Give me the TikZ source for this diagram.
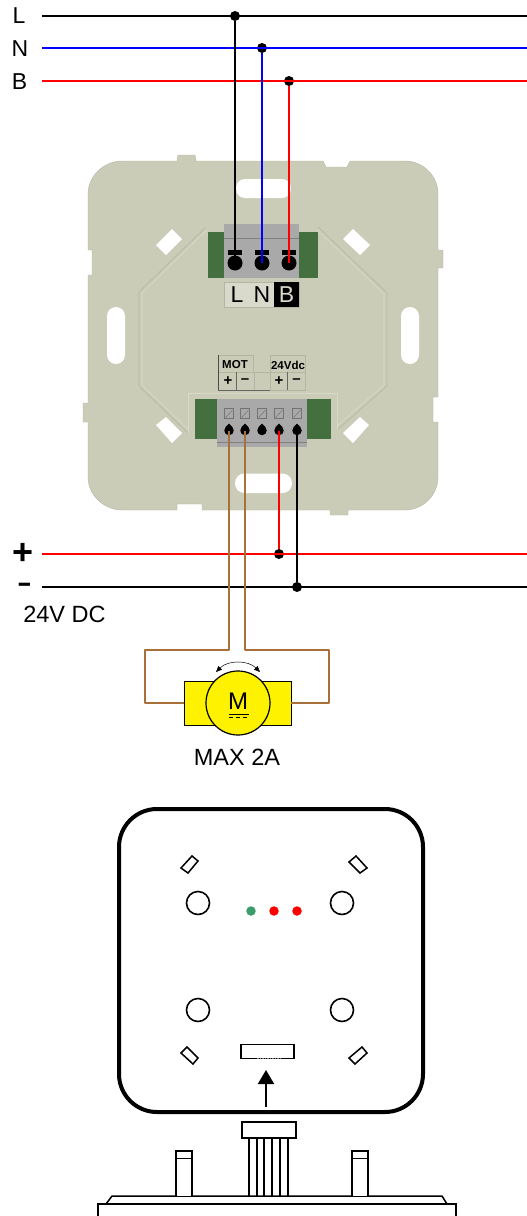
\documentclass[tikz,border=0pt]{standalone}
\usepackage{fontspec}
\setmainfont{Liberation Sans}
\usetikzlibrary{arrows.meta}
\definecolor{plate}{HTML}{CBCCB8}
\definecolor{plateedge}{HTML}{B4B5A2}
\definecolor{plateline}{HTML}{D8D9C9}
\definecolor{labelfill}{HTML}{D9DACB}
\definecolor{termgreen}{HTML}{44703F}
\definecolor{termgray}{HTML}{A9A9A9}
\definecolor{wirebrown}{HTML}{A9703C}
\definecolor{ledgreen}{HTML}{3A9B6B}
\definecolor{wireblue}{HTML}{0000FF}
\definecolor{wirered}{HTML}{FF0000}
\tikzset{
  txt/.style={inner sep=0pt,outer sep=0pt,font=\fontsize{#1}{#1}\selectfont},
  btxt/.style={inner sep=0pt,outer sep=0pt,font=\fontsize{#1}{#1}\selectfont\bfseries},
  wire/.style={line width=2pt},
  dot/.style={circle,fill=black,inner sep=0pt,minimum size=10pt,outer sep=0pt},
  bigscrew/.style={circle,fill=black,inner sep=0pt,minimum size=15pt,outer sep=0pt},
  smallscrew/.style={circle,fill=black,inner sep=0pt,minimum size=9.5pt,outer sep=0pt},
  led/.style={circle,inner sep=0pt,minimum size=9.5pt,outer sep=0pt},
  hole/.style={circle,draw=black,line width=1.6pt,fill=white,inner sep=0pt,minimum size=23pt,outer sep=0pt},
  devline/.style={draw=black,line width=1.5pt,fill=white,line join=miter},
}
\begin{document}
\begin{tikzpicture}[x=1pt,y=-1pt]
\useasboundingbox (0,0) rectangle (527,1216);
% ---- mounting plate
\fill[plate,draw=plateedge,line width=0.4pt] (122,161) -- (177,161) -- (178,155) -- (195,155) -- (196,161) -- (323,161) -- (326,167) -- (347,167) -- (350,161) -- (405,161)
 .. controls (423,161) and (438,176) .. (438,194) -- (438,250) -- (443,250) -- (443,268) -- (438,268) -- (438,397) -- (433,397) -- (433,422) -- (438,422) -- (438,477)
 .. controls (438,495) and (423,510) .. (405,510) -- (348,510) -- (348,515) -- (330,515) -- (330,510) -- (202,510) -- (202,504) -- (177,504) -- (177,510) -- (122,510)
 .. controls (104,510) and (88,495) .. (88,477) -- (88,422) -- (83,422) -- (83,403) -- (88,403) -- (88,275) -- (92,275) -- (92,250) -- (88,250) -- (88,194)
 .. controls (88,176) and (104,161) .. (122,161) -- cycle;
% slots
\fill[white,rounded corners=9pt] (236,179) rectangle (291,198);
\fill[white,rounded corners=9.5pt] (235,473.5) rectangle (292,493);
\fill[white,rounded corners=9pt] (107,307) rectangle (125,364);
\fill[white,rounded corners=9pt] (401,307) rectangle (419,364);
\fill[white] (156,245) -- (172,229) -- (182,239) -- (166,255) -- cycle;
\fill[white] (343,239) -- (353,229) -- (370,245) -- (360,255) -- cycle;
\fill[white] (156,425) -- (166,417) -- (182,433) -- (172,443) -- cycle;
\fill[white] (343,433) -- (360,417) -- (369,425) -- (353,443) -- cycle;
% octagon
\draw[plateedge,line width=0.6pt] (206,227) -- (139,292) -- (139,386) -- (188,433);
\draw[plateedge,line width=0.6pt] (318,227) -- (387,293) -- (387,386) -- (337,430);
\draw[plateline,line width=0.6pt] (207,230) -- (142,293) -- (142,385) -- (188,429);
\draw[plateline,line width=0.6pt] (317,230) -- (384,294) -- (384,385) -- (337,426);
\draw[plateline,line width=0.6pt] (188,433) -- (188,393) -- (337,393) -- (337,430);
% ---- top terminal
\fill[termgreen] (208,232) rectangle (224,278);
\fill[termgreen] (299,232) rectangle (318,278);
\fill[termgray] (224,224) rectangle (299,278);
\draw[gray,line width=0.5pt] (224,238) -- (299,238);
\fill[black] (228,250) rectangle (242,254.5);
\fill[black] (255,250) rectangle (269,254.5);
\fill[black] (282,250) rectangle (296,254.5);
\node[bigscrew] (sL) at (235,263) {};
\node[bigscrew] (sN) at (262,263) {};
\node[bigscrew] (sB) at (289,263) {};
% top label
\draw[plateedge,fill=labelfill,line width=0.6pt] (224,282) rectangle (299,307);
\fill[black] (274,282) rectangle (299,307);
\node[txt=23] (tL) at (237,295) {L};
\node[txt=23] (tN) at (262,295) {N};
\node[txt=23,text=labelfill] (tB) at (286.5,295) {B};
% ---- lower label
\draw[plateedge,line width=0.7pt] (218,355) -- (253,355);
\draw[plateedge,line width=0.7pt] (270,355) -- (305,355) -- (305,390) -- (218,390);
\draw[plateedge,line width=0.7pt] (218,372) -- (305,372);
\draw[plateedge,line width=0.7pt] (253,355) -- (253,372) (270,355) -- (270,390) (254,372) -- (254,390);
\draw[black!70,line width=0.7pt] (218,355) -- (218,390);
\draw[black!60,line width=0.7pt] (236,372) -- (236,390) (287,372) -- (287,390);
\draw[black!60,line width=0.7pt] (218,390) -- (270,390);
\node[btxt=11.5] (tMOT) at (235,365) {MOT};
\node[btxt=11.5] (t24) at (288,365) {24Vdc};
\node[btxt=15] (tp1) at (228,381) {+};
\node[btxt=15] (tm1) at (245,381) {–};
\node[btxt=15] (tp2) at (279,381) {+};
\node[btxt=15] (tm2) at (296.5,381) {–};
% ---- lower terminal
\fill[termgreen] (195,399) rectangle (217,439);
\fill[termgreen] (307,399) rectangle (331,439);
\fill[termgray] (217,399) rectangle (307,447);
\draw[gray,line width=0.5pt] (217,442) -- (307,442);
\foreach \n/\xx in {a/229,b/245,c/262,d/279,e/297}{
  \draw[black!55,line width=0.5pt] (\xx-4.5,408.5) rectangle (\xx+4.5,418.5);
  \draw[black!55,line width=0.5pt] (\xx-3.5,417.5) -- (\xx+3.5,410);
  \fill[black] (\xx-3.5,427) -- (\xx,423.5) -- (\xx+3.5,427) -- cycle;
  \node[smallscrew] (t\n) at (\xx,430.5) {};
}
% ---- power lines
\coordinate (Lstart) at (42,16);  \coordinate (Lend) at (527,16);
\coordinate (Nstart) at (42,48);  \coordinate (Nend) at (527,48);
\coordinate (Bstart) at (42,81);  \coordinate (Bend) at (527,81);
\coordinate (Pstart) at (42,554); \coordinate (Pend) at (527,554);
\coordinate (Mstart) at (42,587); \coordinate (Mend) at (527,587);
\node[dot] (jL) at (235,16) {};
\node[dot] (jN) at (262,48) {};
\node[dot] (jB) at (289,81) {};
\node[dot] (jP) at (279,554) {};
\node[dot] (jM) at (297,587) {};
\draw[wire,black] (Lstart) -- (Lend);
\draw[wire,wireblue] (Nstart) -- (Nend);
\draw[wire,wirered] (Bstart) -- (Bend);
\draw[wire,wirered] (Pstart) -- (Pend);
\draw[wire,black] (Mstart) -- (Mend);
\draw[wire,black] (jL) -- (sL);
\draw[wire,wireblue] (jN) -- (sN.center);
\draw[wire,wirered] (jB) -- (sB.center);
\draw[wire,wirered] (td.center) -- (jP);
\draw[wire,black] (te) -- (jM);
% ---- motor
\node[draw=black,line width=0.5pt,fill=yellow,minimum width=107pt,minimum height=44pt,inner sep=0pt,outer sep=0pt] (valve) at (237.5,703) {};
\node[circle,draw=black,line width=1.2pt,fill=yellow,minimum size=64pt,inner sep=0pt,outer sep=0pt] (motor) at (238,703) {};
\node[txt=24] (tM) at (238,701) {M};
\draw[black,line width=1pt] (229,714) -- (249,714);
\draw[black,line width=0.8pt,dash pattern=on 4pt off 3pt] (229,717.5) -- (249,717.5);
\coordinate (swingL) at (216,672);
\coordinate (swingR) at (260,672);
\draw[black,line width=0.5pt,{Triangle[length=6pt,width=5pt]}-{Triangle[length=6pt,width=5pt]}] (swingL) .. controls (228,660) and (248,660) .. (swingR);
\draw[wirebrown,wire,line join=round] (ta.center) -- (229,650) -- (144.5,650) -- (144.5,703) -- (valve.west);
\draw[wirebrown,wire,line join=round] (tb.center) -- (245,650) -- (329,650) -- (329,703) -- (valve.east);
% texts
\node[txt=23] (lL) at (19,16) {L};
\node[txt=23] (lN) at (20,48.5) {N};
\node[txt=23] (lB) at (19.5,81.5) {B};
\node[btxt=36] (lP) at (23,554) {+};
\node[btxt=26] (lM) at (24.5,587) {\addfontfeature{FakeStretch=1.7}-};
\node[txt=23.5] (l24) at (64.5,614) {24V DC};
\node[txt=23.5] (lMax) at (237,757) {MAX 2A};
% ---- bottom device
\draw[black,line width=4pt,fill=white,rounded corners=38pt] (119,809) rectangle (423,1112);
\draw[devline] (181,868) -- (192,856) -- (198,861) -- (188,873) -- cycle;
\draw[devline] (349,862) -- (356,856) -- (367,868) -- (360,873) -- cycle;
\draw[devline] (181,1053) -- (187,1047) -- (198,1058) -- (193,1064) -- cycle;
\draw[devline] (349,1058) -- (362,1047) -- (367,1053) -- (355,1064) -- cycle;
\node[hole] (h1) at (198,903) {};
\node[hole] (h2) at (342,903) {};
\node[hole] (h3) at (198,1010) {};
\node[hole] (h4) at (342,1010) {};
\node[led,fill=ledgreen] (led1) at (251,911) {};
\node[led,fill=wirered] (led2) at (274,911) {};
\node[led,fill=wirered] (led3) at (297,911) {};
\node[draw=black,line width=1.8pt,fill=white,minimum width=53pt,minimum height=14pt,inner sep=0pt] (socket) at (267.5,1051.5) {};
\draw[gray,line width=0.8pt,dash pattern=on 1.5pt off 1pt] (257,1058) -- (280,1058);
\coordinate (arrowfoot) at (266,1107);
\coordinate (arrowtip) at (266,1070);
\draw[black,line width=2pt,-{Triangle[length=14pt,width=16pt]}] (arrowfoot) -- (arrowtip);
% board
\draw[devline] (106,1204) -- (112,1196) -- (442,1196) -- (447,1204);
\draw[black,line width=1.8pt] (98,1217) -- (98,1204) -- (456,1204) -- (456,1217);
\draw[devline] (176,1196) -- (176,1151) -- (192,1151) -- (192,1196);
\draw[black,line width=1pt] (176,1158) -- (192,1158);
\draw[devline] (352,1196) -- (352,1151) -- (368,1151) -- (368,1196);
\draw[black,line width=1pt] (352,1158) -- (368,1158);
\foreach \xx in {249,257,264,272,280,288}{ \draw[black,line width=1.2pt] (\xx,1138) -- (\xx,1196); }
\draw[black,line width=2pt,fill=white] (242,1122) rectangle (296,1138);
\end{tikzpicture}
\end{document}
